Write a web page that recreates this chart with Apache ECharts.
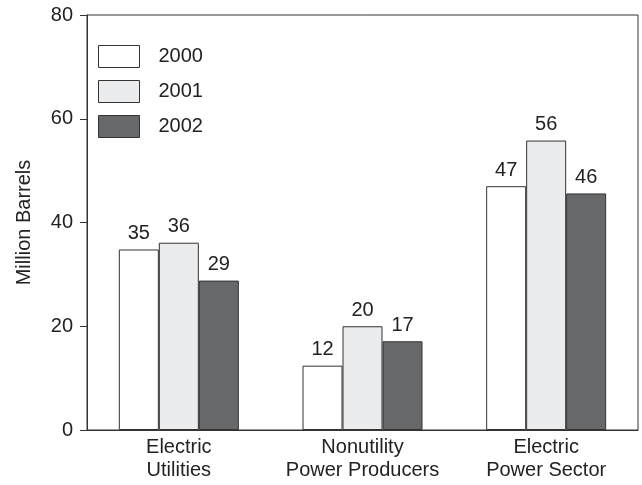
<!DOCTYPE html>
<html>
<head>
<meta charset="utf-8">
<script src="https://cdn.jsdelivr.net/npm/echarts@6/dist/echarts.min.js"></script>
<style>html,body{margin:0;padding:0;background:#fff}#c{width:642px;height:485px}</style>
</head>
<body>
<div id="c"></div>
<script>
var categories = ['Electric\nUtilities', 'Nonutility\nPower Producers', 'Electric\nPower Sector'];
var seriesNames = ['2000', '2001', '2002'];
var values2000 = [34.8, 12.4, 47.0];
var values2001 = [36.1, 20.0, 55.8];
var values2002 = [28.8, 17.1, 45.6];
var yTicks = [0, 20, 40, 60, 80];
var fills = ['#ffffff', '#ebeced', '#67686a'];

var FONT = 'Liberation Sans, Arial, sans-serif';
var TXT = '#222';
var chart = echarts.init(document.getElementById('c'));
var allVals = [values2000, values2001, values2002];
var series = seriesNames.map(function (n, i) {
  return {
    name: n,
    type: 'bar',
    data: allVals[i],
    barWidth: 40,
    barGap: '0%',
    itemStyle: { color: fills[i], borderColor: '#333', borderWidth: 1 },
    label: {
      show: true, position: 'top', distance: 6,
      fontFamily: FONT, fontSize: 20, color: TXT,
      formatter: function (p) { return Math.round(p.value); }
    },
    emphasis: { disabled: true }
  };
});
chart.setOption({
  animation: false,
  grid: { left: 87, right: 4, top: 15, bottom: 55, show: true, borderColor: '#333', borderWidth: 1, backgroundColor: 'transparent' },
  legend: {
    orient: 'vertical', left: 98, top: 45, padding: 0,
    icon: 'rect',
    itemWidth: 41, itemHeight: 22, itemGap: 12,
    data: seriesNames,
    itemStyle: { borderColor: '#333', borderWidth: 1 },
    textStyle: { fontFamily: FONT, fontSize: 20, color: TXT, lineHeight: 22, padding: [0, 0, 0, 14] },
    selectedMode: false
  },
  xAxis: {
    type: 'category', data: categories,
    axisLine: { lineStyle: { color: '#333', width: 1 } },
    axisTick: { show: false },
    axisLabel: { fontFamily: FONT, fontSize: 20, color: TXT, lineHeight: 23, margin: 6, interval: 0 }
  },
  yAxis: {
    type: 'value', min: yTicks[0], max: yTicks[yTicks.length - 1], interval: 20,
    name: 'Million Barrels', nameLocation: 'middle', nameGap: 53, nameRotate: 90,
    nameTextStyle: { fontFamily: FONT, fontSize: 20, color: TXT },
    axisLine: { show: true, lineStyle: { color: '#333', width: 1 } },
    axisTick: { show: true, inside: false, length: 7, lineStyle: { color: '#333' } },
    axisLabel: { fontFamily: FONT, fontSize: 20, color: TXT, margin: 14 },
    splitLine: { show: false }
  },
  series: series
});
</script>
</body>
</html>
